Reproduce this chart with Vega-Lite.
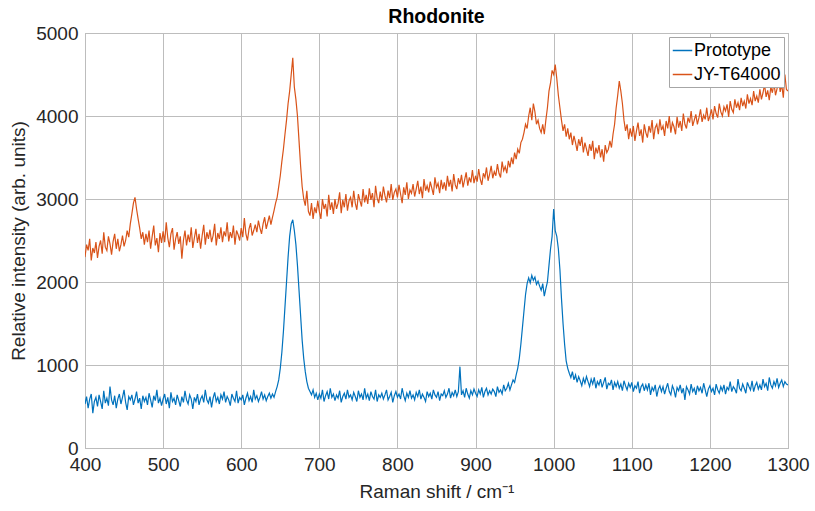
{
"$schema":"https://vega.github.io/schema/vega-lite/v6.json",
"autosize":"none",
"width":703,"height":415,
"padding":{"left":85,"top":33,"right":27,"bottom":63},
"background":"white",
"config":{"font":"Liberation Sans","view":{"stroke":"#a6a6a6","strokeWidth":1}},
"title":{"text":"Rhodonite","fontSize":19.5,"fontWeight":"bold","color":"#000000","offset":-3,"font":"Liberation Sans"},
"datasets":{"spec":[
{"x":400,"p":530,"j":2300},{"x":402,"p":620,"j":2450},{"x":404,"p":480,"j":2380},{"x":406,"p":590,"j":2520},{"x":408,"p":650,"j":2260},{"x":410,"p":420,"j":2410},{"x":412,"p":560,"j":2350},{"x":414,"p":610,"j":2480},{"x":416,"p":500,"j":2290},{"x":418,"p":640,"j":2430},
{"x":420,"p":560,"j":2500},{"x":422,"p":470,"j":2340},{"x":424,"p":690,"j":2600},{"x":426,"p":540,"j":2420},{"x":428,"p":600,"j":2380},{"x":430,"p":510,"j":2550},{"x":432,"p":740,"j":2460},{"x":434,"p":580,"j":2330},{"x":436,"p":520,"j":2490},{"x":438,"p":630,"j":2580},
{"x":440,"p":480,"j":2400},{"x":442,"p":590,"j":2520},{"x":444,"p":650,"j":2370},{"x":446,"p":530,"j":2450},{"x":448,"p":610,"j":2560},{"x":450,"p":700,"j":2430},{"x":452,"p":550,"j":2500},{"x":454,"p":460,"j":2620},{"x":456,"p":620,"j":2540},{"x":458,"p":580,"j":2700},
{"x":460,"p":640,"j":2820},{"x":462,"p":520,"j":2950},{"x":464,"p":590,"j":3020},{"x":466,"p":680,"j":2880},{"x":468,"p":540,"j":2760},{"x":470,"p":600,"j":2650},{"x":472,"p":470,"j":2520},{"x":474,"p":630,"j":2600},{"x":476,"p":560,"j":2450},{"x":478,"p":610,"j":2580},
{"x":480,"p":520,"j":2480},{"x":482,"p":660,"j":2620},{"x":484,"p":580,"j":2400},{"x":486,"p":490,"j":2550},{"x":488,"p":630,"j":2680},{"x":490,"p":570,"j":2440},{"x":492,"p":700,"j":2530},{"x":494,"p":540,"j":2360},{"x":496,"p":600,"j":2590},{"x":498,"p":510,"j":2470},
{"x":500,"p":590,"j":2610},{"x":502,"p":650,"j":2480},{"x":504,"p":530,"j":2720},{"x":506,"p":610,"j":2530},{"x":508,"p":480,"j":2420},{"x":510,"p":670,"j":2580},{"x":512,"p":560,"j":2650},{"x":514,"p":600,"j":2390},{"x":516,"p":520,"j":2520},{"x":518,"p":640,"j":2600},
{"x":520,"p":570,"j":2460},{"x":522,"p":500,"j":2550},{"x":524,"p":620,"j":2280},{"x":526,"p":550,"j":2500},{"x":528,"p":690,"j":2620},{"x":530,"p":580,"j":2440},{"x":532,"p":530,"j":2570},{"x":534,"p":640,"j":2480},{"x":536,"p":590,"j":2660},{"x":538,"p":470,"j":2410},
{"x":540,"p":610,"j":2530},{"x":542,"p":560,"j":2640},{"x":544,"p":650,"j":2470},{"x":546,"p":520,"j":2580},{"x":548,"p":590,"j":2400},{"x":550,"p":630,"j":2560},{"x":552,"p":550,"j":2690},{"x":554,"p":700,"j":2450},{"x":556,"p":580,"j":2600},{"x":558,"p":540,"j":2520},
{"x":560,"p":620,"j":2630},{"x":562,"p":490,"j":2480},{"x":564,"p":600,"j":2560},{"x":566,"p":670,"j":2700},{"x":568,"p":560,"j":2440},{"x":570,"p":610,"j":2590},{"x":572,"p":530,"j":2520},{"x":574,"p":640,"j":2660},{"x":576,"p":590,"j":2480},{"x":578,"p":680,"j":2610},
{"x":580,"p":550,"j":2550},{"x":582,"p":620,"j":2720},{"x":584,"p":580,"j":2490},{"x":586,"p":510,"j":2600},{"x":588,"p":650,"j":2530},{"x":590,"p":600,"j":2680},{"x":592,"p":560,"j":2450},{"x":594,"p":690,"j":2620},{"x":596,"p":540,"j":2570},{"x":598,"p":610,"j":2500},
{"x":600,"p":580,"j":2650},{"x":602,"p":640,"j":2540},{"x":604,"p":520,"j":2770},{"x":606,"p":600,"j":2580},{"x":608,"p":660,"j":2500},{"x":610,"p":570,"j":2640},{"x":612,"p":620,"j":2710},{"x":614,"p":550,"j":2560},{"x":616,"p":700,"j":2620},{"x":618,"p":590,"j":2690},
{"x":620,"p":630,"j":2600},{"x":622,"p":560,"j":2740},{"x":624,"p":610,"j":2650},{"x":626,"p":680,"j":2580},{"x":628,"p":590,"j":2700},{"x":630,"p":640,"j":2780},{"x":632,"p":570,"j":2640},{"x":634,"p":620,"j":2720},{"x":636,"p":660,"j":2800},{"x":638,"p":600,"j":2690},
{"x":640,"p":650,"j":2780},{"x":642,"p":610,"j":2860},{"x":644,"p":680,"j":2950},{"x":646,"p":740,"j":3020},{"x":648,"p":820,"j":3150},{"x":650,"p":960,"j":3280},{"x":652,"p":1150,"j":3450},{"x":654,"p":1400,"j":3600},{"x":656,"p":1700,"j":3780},{"x":658,"p":2000,"j":3950},
{"x":660,"p":2300,"j":4150},{"x":662,"p":2550,"j":4300},{"x":664,"p":2700,"j":4500},{"x":666,"p":2750,"j":4700},{"x":668,"p":2620,"j":4350},{"x":670,"p":2450,"j":4200},{"x":672,"p":2200,"j":4000},{"x":674,"p":1900,"j":3700},{"x":676,"p":1600,"j":3400},{"x":678,"p":1300,"j":3150},
{"x":680,"p":1080,"j":3000},{"x":682,"p":920,"j":2920},{"x":684,"p":800,"j":3100},{"x":686,"p":720,"j":2850},{"x":688,"p":680,"j":2800},{"x":690,"p":640,"j":2950},{"x":692,"p":700,"j":2760},{"x":694,"p":610,"j":2900},{"x":696,"p":660,"j":2830},{"x":698,"p":580,"j":2980},
{"x":700,"p":650,"j":2850},{"x":702,"p":600,"j":2760},{"x":704,"p":700,"j":3000},{"x":706,"p":560,"j":2880},{"x":708,"p":630,"j":2940},{"x":710,"p":680,"j":2790},{"x":712,"p":590,"j":3050},{"x":714,"p":720,"j":2870},{"x":716,"p":610,"j":2960},{"x":718,"p":650,"j":2820},
{"x":720,"p":570,"j":3000},{"x":722,"p":640,"j":2880},{"x":724,"p":600,"j":2950},{"x":726,"p":690,"j":3080},{"x":728,"p":550,"j":2830},{"x":730,"p":620,"j":2990},{"x":732,"p":660,"j":2900},{"x":734,"p":590,"j":3060},{"x":736,"p":700,"j":2860},{"x":738,"p":610,"j":2980},
{"x":740,"p":640,"j":3020},{"x":742,"p":580,"j":2900},{"x":744,"p":670,"j":3100},{"x":746,"p":620,"j":2950},{"x":748,"p":560,"j":2870},{"x":750,"p":690,"j":3060},{"x":752,"p":610,"j":2980},{"x":754,"p":650,"j":2910},{"x":756,"p":580,"j":3120},{"x":758,"p":720,"j":2960},
{"x":760,"p":600,"j":3050},{"x":762,"p":650,"j":2940},{"x":764,"p":570,"j":3130},{"x":766,"p":680,"j":2990},{"x":768,"p":620,"j":3070},{"x":770,"p":590,"j":2900},{"x":772,"p":700,"j":3160},{"x":774,"p":560,"j":3010},{"x":776,"p":640,"j":2950},{"x":778,"p":610,"j":3090},
{"x":780,"p":660,"j":2980},{"x":782,"p":590,"j":3150},{"x":784,"p":640,"j":3040},{"x":786,"p":700,"j":2960},{"x":788,"p":580,"j":3100},{"x":790,"p":620,"j":3010},{"x":792,"p":670,"j":3180},{"x":794,"p":550,"j":2990},{"x":796,"p":630,"j":3080},{"x":798,"p":680,"j":3120},
{"x":800,"p":610,"j":3020},{"x":802,"p":650,"j":3170},{"x":804,"p":590,"j":3060},{"x":806,"p":720,"j":2950},{"x":808,"p":630,"j":3140},{"x":810,"p":570,"j":3050},{"x":812,"p":660,"j":3200},{"x":814,"p":610,"j":3000},{"x":816,"p":690,"j":3110},{"x":818,"p":600,"j":3070},
{"x":820,"p":640,"j":3180},{"x":822,"p":580,"j":3030},{"x":824,"p":670,"j":3120},{"x":826,"p":620,"j":3220},{"x":828,"p":700,"j":3060},{"x":830,"p":590,"j":3150},{"x":832,"p":650,"j":3010},{"x":834,"p":610,"j":3240},{"x":836,"p":560,"j":3100},{"x":838,"p":680,"j":3160},
{"x":840,"p":620,"j":3080},{"x":842,"p":660,"j":3210},{"x":844,"p":590,"j":3130},{"x":846,"p":700,"j":3050},{"x":848,"p":640,"j":3260},{"x":850,"p":610,"j":3140},{"x":852,"p":680,"j":3190},{"x":854,"p":570,"j":3070},{"x":856,"p":650,"j":3230},{"x":858,"p":630,"j":3120},
{"x":860,"p":690,"j":3200},{"x":862,"p":610,"j":3100},{"x":864,"p":650,"j":3280},{"x":866,"p":720,"j":3150},{"x":868,"p":600,"j":3230},{"x":870,"p":670,"j":3090},{"x":872,"p":630,"j":3300},{"x":874,"p":700,"j":3170},{"x":876,"p":620,"j":3120},{"x":878,"p":680,"j":3250},
{"x":880,"p":980,"j":3180},{"x":882,"p":640,"j":3290},{"x":884,"p":690,"j":3140},{"x":886,"p":610,"j":3230},{"x":888,"p":720,"j":3320},{"x":890,"p":650,"j":3160},{"x":892,"p":600,"j":3260},{"x":894,"p":690,"j":3200},{"x":896,"p":640,"j":3350},{"x":898,"p":710,"j":3190},
{"x":900,"p":660,"j":3280},{"x":902,"p":620,"j":3210},{"x":904,"p":700,"j":3360},{"x":906,"p":650,"j":3240},{"x":908,"p":730,"j":3170},{"x":910,"p":610,"j":3310},{"x":912,"p":680,"j":3260},{"x":914,"p":720,"j":3380},{"x":916,"p":640,"j":3220},{"x":918,"p":690,"j":3300},
{"x":920,"p":650,"j":3400},{"x":922,"p":710,"j":3250},{"x":924,"p":680,"j":3330},{"x":926,"p":620,"j":3280},{"x":928,"p":740,"j":3420},{"x":930,"p":670,"j":3310},{"x":932,"p":700,"j":3260},{"x":934,"p":650,"j":3450},{"x":936,"p":760,"j":3340},{"x":938,"p":690,"j":3390},
{"x":940,"p":720,"j":3310},{"x":942,"p":780,"j":3460},{"x":944,"p":700,"j":3380},{"x":946,"p":760,"j":3500},{"x":948,"p":820,"j":3420},{"x":950,"p":790,"j":3560},{"x":952,"p":880,"j":3480},{"x":954,"p":960,"j":3600},{"x":956,"p":1080,"j":3550},{"x":958,"p":1250,"j":3680},
{"x":960,"p":1450,"j":3720},{"x":962,"p":1650,"j":3800},{"x":964,"p":1850,"j":3900},{"x":966,"p":1980,"j":3850},{"x":968,"p":2050,"j":4000},{"x":970,"p":1990,"j":4100},{"x":972,"p":2080,"j":3950},{"x":974,"p":2020,"j":4150},{"x":976,"p":2060,"j":4050},{"x":978,"p":1970,"j":3900},
{"x":980,"p":2010,"j":3950},{"x":982,"p":1950,"j":3850},{"x":984,"p":1900,"j":3800},{"x":986,"p":1980,"j":3900},{"x":988,"p":1830,"j":3780},{"x":990,"p":1920,"j":3950},{"x":992,"p":2000,"j":4100},{"x":994,"p":2200,"j":4300},{"x":996,"p":2400,"j":4400},{"x":998,"p":2550,"j":4550},
{"x":1000,"p":2880,"j":4500},{"x":1002,"p":2620,"j":4620},{"x":1004,"p":2550,"j":4450},{"x":1006,"p":2400,"j":4250},{"x":1008,"p":2150,"j":4100},{"x":1010,"p":1800,"j":3950},{"x":1012,"p":1500,"j":3820},{"x":1014,"p":1250,"j":3900},{"x":1016,"p":1050,"j":3750},{"x":1018,"p":960,"j":3850},
{"x":1020,"p":900,"j":3720},{"x":1022,"p":850,"j":3800},{"x":1024,"p":920,"j":3650},{"x":1026,"p":820,"j":3760},{"x":1028,"p":880,"j":3680},{"x":1030,"p":790,"j":3580},{"x":1032,"p":860,"j":3720},{"x":1034,"p":810,"j":3640},{"x":1036,"p":750,"j":3750},{"x":1038,"p":840,"j":3560},
{"x":1040,"p":780,"j":3680},{"x":1042,"p":860,"j":3600},{"x":1044,"p":800,"j":3520},{"x":1046,"p":740,"j":3660},{"x":1048,"p":830,"j":3580},{"x":1050,"p":770,"j":3700},{"x":1052,"p":850,"j":3480},{"x":1054,"p":720,"j":3620},{"x":1056,"p":800,"j":3550},{"x":1058,"p":760,"j":3650},
{"x":1060,"p":830,"j":3500},{"x":1062,"p":730,"j":3600},{"x":1064,"p":790,"j":3450},{"x":1066,"p":850,"j":3650},{"x":1068,"p":710,"j":3560},{"x":1070,"p":780,"j":3600},{"x":1072,"p":760,"j":3700},{"x":1074,"p":820,"j":3620},{"x":1076,"p":700,"j":3780},{"x":1078,"p":790,"j":3900},
{"x":1080,"p":740,"j":4100},{"x":1082,"p":800,"j":4250},{"x":1084,"p":720,"j":4420},{"x":1086,"p":770,"j":4300},{"x":1088,"p":690,"j":4150},{"x":1090,"p":810,"j":3950},{"x":1092,"p":750,"j":3820},{"x":1094,"p":700,"j":3900},{"x":1096,"p":780,"j":3720},{"x":1098,"p":730,"j":3850},
{"x":1100,"p":790,"j":3750},{"x":1102,"p":680,"j":3880},{"x":1104,"p":750,"j":3700},{"x":1106,"p":720,"j":3820},{"x":1108,"p":800,"j":3920},{"x":1110,"p":660,"j":3760},{"x":1112,"p":740,"j":3840},{"x":1114,"p":770,"j":3680},{"x":1116,"p":690,"j":3900},{"x":1118,"p":760,"j":3800},
{"x":1120,"p":700,"j":3740},{"x":1122,"p":780,"j":3880},{"x":1124,"p":640,"j":3800},{"x":1126,"p":730,"j":3950},{"x":1128,"p":690,"j":3720},{"x":1130,"p":760,"j":3860},{"x":1132,"p":620,"j":3900},{"x":1134,"p":710,"j":3780},{"x":1136,"p":750,"j":3960},{"x":1138,"p":680,"j":3830},
{"x":1140,"p":740,"j":3880},{"x":1142,"p":650,"j":3760},{"x":1144,"p":720,"j":3940},{"x":1146,"p":780,"j":3850},{"x":1148,"p":680,"j":4000},{"x":1150,"p":640,"j":3800},{"x":1152,"p":750,"j":3920},{"x":1154,"p":700,"j":3870},{"x":1156,"p":610,"j":3780},{"x":1158,"p":730,"j":3990},
{"x":1160,"p":690,"j":3860},{"x":1162,"p":760,"j":3940},{"x":1164,"p":660,"j":3820},{"x":1166,"p":720,"j":4030},{"x":1168,"p":580,"j":3900},{"x":1170,"p":740,"j":3850},{"x":1172,"p":700,"j":3980},{"x":1174,"p":650,"j":3920},{"x":1176,"p":770,"j":4060},{"x":1178,"p":680,"j":3880},
{"x":1180,"p":720,"j":3950},{"x":1182,"p":640,"j":4020},{"x":1184,"p":750,"j":3900},{"x":1186,"p":690,"j":3980},{"x":1188,"p":730,"j":4080},{"x":1190,"p":660,"j":3930},{"x":1192,"p":780,"j":4010},{"x":1194,"p":700,"j":3960},{"x":1196,"p":620,"j":4100},{"x":1198,"p":710,"j":3940},
{"x":1200,"p":750,"j":4000},{"x":1202,"p":680,"j":4080},{"x":1204,"p":720,"j":3960},{"x":1206,"p":640,"j":4120},{"x":1208,"p":770,"j":4030},{"x":1210,"p":700,"j":3980},{"x":1212,"p":660,"j":4150},{"x":1214,"p":740,"j":4050},{"x":1216,"p":690,"j":4000},{"x":1218,"p":760,"j":4110},
{"x":1220,"p":650,"j":4060},{"x":1222,"p":730,"j":4140},{"x":1224,"p":700,"j":3990},{"x":1226,"p":800,"j":4180},{"x":1228,"p":680,"j":4080},{"x":1230,"p":740,"j":4040},{"x":1232,"p":710,"j":4200},{"x":1234,"p":660,"j":4100},{"x":1236,"p":830,"j":4160},{"x":1238,"p":720,"j":4070},
{"x":1240,"p":690,"j":4220},{"x":1242,"p":770,"j":4120},{"x":1244,"p":720,"j":4180},{"x":1246,"p":660,"j":4090},{"x":1248,"p":790,"j":4260},{"x":1250,"p":740,"j":4150},{"x":1252,"p":700,"j":4210},{"x":1254,"p":810,"j":4130},{"x":1256,"p":680,"j":4300},{"x":1258,"p":750,"j":4180},
{"x":1260,"p":790,"j":4240},{"x":1262,"p":710,"j":4160},{"x":1264,"p":760,"j":4320},{"x":1266,"p":700,"j":4200},{"x":1268,"p":830,"j":4280},{"x":1270,"p":740,"j":4380},{"x":1272,"p":780,"j":4230},{"x":1274,"p":690,"j":4310},{"x":1276,"p":850,"j":4190},{"x":1278,"p":760,"j":4350},
{"x":1280,"p":720,"j":4280},{"x":1282,"p":800,"j":4400},{"x":1284,"p":750,"j":4250},{"x":1286,"p":840,"j":4330},{"x":1288,"p":730,"j":4450},{"x":1290,"p":780,"j":4290},{"x":1292,"p":820,"j":4380},{"x":1294,"p":740,"j":4220},{"x":1296,"p":800,"j":4500},{"x":1298,"p":770,"j":4320},
{"x":1300,"p":760,"j":4300}
]},
"data":{"name":"spec"},
"transform":[{"fold":["p","j"],"as":["series","y"]}],
"mark":{"type":"line","strokeWidth":1.2,"clip":true},
"encoding":{
"x":{"field":"x","type":"quantitative","scale":{"domain":[400,1300],"nice":false,"zero":false},
"axis":{"title":"Raman shift / cm⁻¹","values":[400,500,600,700,800,900,1000,1100,1200,1300],"format":"d","labelFlush":false,"labelOverlap":false,"grid":true,"gridColor":"#bdbdbd","domain":false,"ticks":false,"labelFontSize":19,"labelColor":"#262626","labelPadding":7,"titleFontSize":19,"titleFontWeight":"normal","titleColor":"#262626","titlePadding":8}},
"y":{"field":"y","type":"quantitative","scale":{"domain":[0,5000],"nice":false},
"axis":{"title":"Relative intensity (arb. units)","values":[0,1000,2000,3000,4000,5000],"format":"d","labelFlush":false,"grid":true,"gridColor":"#bdbdbd","domain":false,"ticks":false,"labelFontSize":19,"labelColor":"#262626","labelPadding":7,"titleFontSize":19,"titleFontWeight":"normal","titleColor":"#262626","titlePadding":7}},
"color":{"field":"series","type":"nominal","scale":{"domain":["p","j"],"range":["#0072BD","#D95319"]},
"legend":{"title":null,"orient":"top-right","offset":4,"labelExpr":"datum.label == 'p' ? 'Prototype' : 'JY-T64000'","symbolType":"stroke","symbolSize":380,"symbolStrokeWidth":1.5,"labelFontSize":18,"labelColor":"#000000","fillColor":"white","strokeColor":"#a6a6a6","padding":3,"rowPadding":4,"cornerRadius":0,"labelOffset":1}},
"order":{"field":"x","type":"quantitative"}
}
}
